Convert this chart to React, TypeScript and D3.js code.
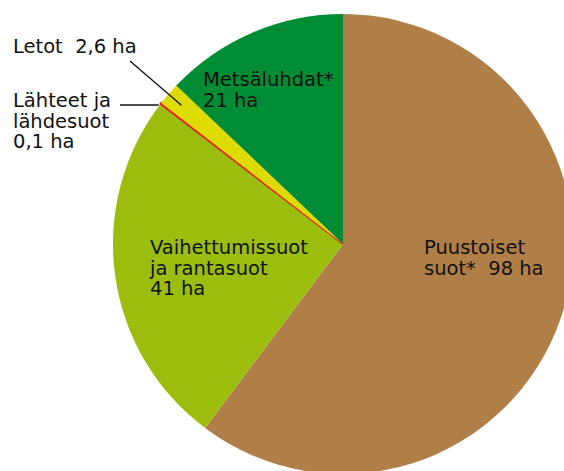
import React from "react";
import * as d3 from "d3";

const categories = ["Puustoiset suot*", "Vaihettumissuot ja rantasuot", "Lähteet ja lähdesuot", "Letot", "Metsäluhdat*"];
const values = [98, 41, 0.1, 2.6, 21];
const colors = ["#B07F48", "#9BBD0E", "#E3262B", "#DDDB00", "#008C34"];
const labelLines = [
  ["Puustoiset", "suot*  98 ha"],
  ["Vaihettumissuot", "ja rantasuot", "41 ha"],
  ["Lähteet ja", "lähdesuot", "0,1 ha"],
  ["Letot  2,6 ha"],
  ["Metsäluhdat*", "21 ha"],
];

const W = 564, H = 471;
const cx = 343, cy = 244, R = 230;
const fontSize = 19.5;
const lineH = 20.7;

export default function App() {
  const pie = d3.pie<number>().sort(null).value((d) => d).startAngle(0).endAngle(2 * Math.PI);
  const arcs = pie(values);
  const arc = d3.arc<d3.PieArcDatum<number>>().innerRadius(0).outerRadius(R);

  const labelPos: [number, number][] = [
    [424, 254],
    [150, 254],
    [13, 107],
    [13, 53],
    [203, 86],
  ];

  const pt = (a: number, r: number): [number, number] => [cx + r * Math.sin(a), cy - r * Math.cos(a)];
  const letA = (arcs[3].startAngle + arcs[3].endAngle) / 2;
  const letEnd = pt(letA, R - 17);
  const lahA = (arcs[2].startAngle + arcs[2].endAngle) / 2;
  const lahEnd = pt(lahA, R - 1);

  return (
    <svg width={W} height={H} style={{ position: "fixed", left: 0, top: 0, background: "#fff" }}
      fontFamily="'DejaVu Sans', sans-serif">
      <g transform={`translate(${cx},${cy})`}>
        {arcs.map((a, i) => (
          <path key={categories[i]} d={arc(a) || ""} fill={colors[i]}
            stroke={i === 2 ? colors[i] : "none"} strokeWidth={i === 2 ? 2.2 : 0} />
        ))}
      </g>
      <line x1={130} y1={61} x2={letEnd[0]} y2={letEnd[1]} stroke="#111" strokeWidth={1.3} />
      <line x1={120} y1={105} x2={lahEnd[0] - 3} y2={105} stroke="#111" strokeWidth={1.3} />
      {labelLines.map((lines, i) => (
        <text key={i} x={labelPos[i][0]} y={labelPos[i][1]} fontSize={fontSize} fill="#111"
          xmlSpace="preserve" style={{ whiteSpace: "pre" }}>
          {lines.map((l, j) => (
            <tspan key={j} x={labelPos[i][0]} dy={j === 0 ? 0 : lineH}>{l}</tspan>
          ))}
        </text>
      ))}
    </svg>
  );
}
